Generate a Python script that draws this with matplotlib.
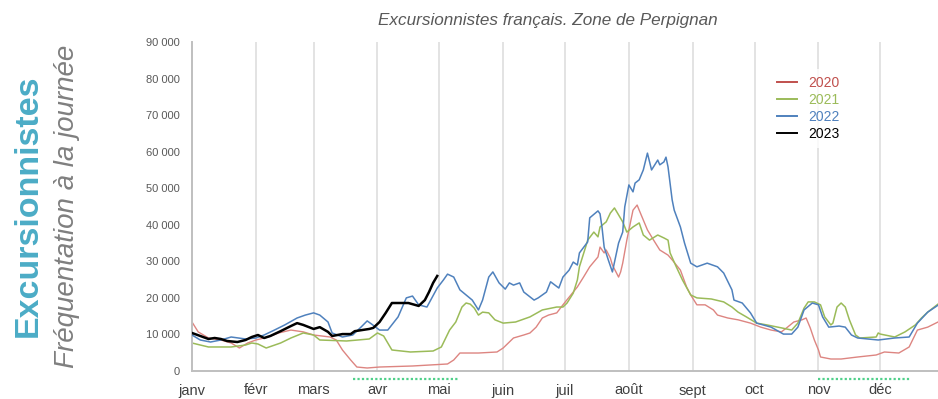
import matplotlib
matplotlib.use("Agg")
import matplotlib.pyplot as plt
from matplotlib.lines import Line2D

plt.rcParams['font.family'] = ['Liberation Sans', 'DejaVu Sans']

# Month labels and first day-of-year for each month
months = ['janv', 'févr', 'mars', 'avr', 'mai', 'juin', 'juil', 'août', 'sept', 'oct', 'nov', 'déc']
month_start = [0, 31, 59, 90, 120, 151, 181, 212, 243, 273, 304, 334]

# 2020
days_2020 = [0, 3, 8, 14, 19, 23, 27, 31, 37, 42, 48, 54, 59, 67, 70, 73, 77, 80, 85, 91,
             107, 124, 127, 130, 133, 139, 148, 151, 156, 161, 164, 167, 170, 173, 177, 180,
             183, 187, 190, 193, 197, 198, 200, 201, 203, 204, 207, 208, 209, 211, 213, 214,
             216, 217, 219, 221, 224, 227, 231, 233, 237, 240, 242, 245, 249, 253, 255, 260,
             265, 271, 276, 281, 286, 289, 292, 296, 298, 300, 302, 304, 305, 310, 315, 323,
             332, 336, 343, 348, 352, 357, 362]
vals_2020 = [13400, 10700, 9030, 8480, 7660, 6290, 7660, 8480, 9300, 10400, 11200, 10700, 9850,
             9300, 8480, 5750, 3010, 1090, 820, 1090, 1370, 1920, 3010, 4920, 4920, 4920, 5200,
             6290, 9030, 9850, 10400, 12000, 14500, 15300, 15900, 18100, 20200, 23000, 25700,
             28500, 31200, 33900, 32300, 33100, 30900, 29000, 25700, 27100, 29500, 35800, 41300,
             44000, 45400, 44000, 41300, 38600, 35800, 33100, 31700, 30400, 27600, 23000, 20800,
             18100, 18100, 16700, 15300, 14500, 14000, 13100, 12000, 11200, 10700, 12000, 13400,
             14000, 14500, 11800, 8480, 5750, 3830, 3280, 3280, 3830, 4380, 5200, 4920, 6570,
             11200, 12000, 13400]

# 2021
days_2021 = [0, 4, 8, 13, 19, 26, 29, 32, 36, 43, 48, 54, 59, 62, 75, 86, 90, 93, 97, 106,
             117, 121, 125, 128, 131, 133, 135, 137, 139, 141, 144, 147, 151, 157, 164, 170,
             177, 180, 182, 185, 187, 188, 191, 192, 195, 197, 198, 201, 203, 205, 207, 209,
             211, 214, 217, 219, 222, 226, 229, 231, 232, 235, 238, 242, 245, 252, 258, 262,
             265, 269, 274, 279, 286, 291, 294, 297, 299, 302, 305, 307, 310, 311, 313, 315,
             317, 319, 322, 324, 332, 333, 334, 341, 346, 351, 354, 357, 362]
vals_2021 = [7660, 7110, 6570, 6570, 6570, 7110, 7660, 7390, 6290, 7660, 9030, 10400, 9850, 8480,
             8210, 8760, 10400, 9580, 5750, 5200, 5470, 6570, 11200, 13400, 17500, 18600, 18300,
             17200, 15300, 16100, 15900, 14000, 13100, 13400, 14800, 16700, 17500, 17500, 18600,
             21300, 24900, 28500, 33900, 35800, 38000, 36700, 39400, 40800, 43200, 44600, 42700,
             40800, 38000, 39400, 40500, 37200, 35800, 37200, 36400, 35800, 32300, 28500, 24900,
             20800, 20000, 19700, 18900, 17500, 16100, 14800, 13100, 12600, 11800, 11200, 13100,
             17200, 18900, 18900, 18100, 14800, 12600, 13100, 17500, 18600, 17500, 14000, 9850,
             9030, 9300, 10400, 10100, 9300, 10700, 12600, 14500, 16100, 18300]

# 2022
days_2022 = [0, 4, 9, 14, 19, 26, 31, 35, 40, 45, 51, 55, 59, 62, 66, 68, 73, 78, 82, 85,
             87, 91, 95, 100, 104, 107, 110, 114, 119, 122, 124, 127, 130, 133, 136, 139,
             141, 144, 146, 149, 152, 154, 156, 159, 161, 166, 168, 172, 174, 178, 180, 183,
             185, 187, 188, 192, 193, 197, 198, 199, 200, 202, 204, 207, 209, 210, 212, 214,
             215, 217, 219, 221, 223, 226, 227, 229, 230, 231, 233, 234, 237, 239, 242, 245,
             250, 255, 258, 262, 263, 267, 271, 274, 281, 287, 291, 294, 297, 301, 304, 306,
             309, 314, 317, 320, 323, 333, 341, 348, 352, 357, 362]
vals_2022 = [9850, 8480, 7930, 8480, 9300, 8760, 9030, 9850, 11200, 12600, 14500, 15300, 15900,
             15300, 13400, 10400, 9300, 9850, 12000, 13700, 12900, 11200, 11200, 14800, 20000,
             20500, 18100, 17500, 22700, 24900, 26500, 25700, 22200, 20800, 19400, 16700, 19400,
             25700, 27100, 24100, 22400, 24100, 23500, 24100, 21600, 19400, 20000, 21600, 24400,
             22700, 25700, 27600, 29800, 29000, 32300, 35300, 41900, 43800, 43000, 39100, 33900,
             30400, 27100, 35000, 38000, 44900, 50900, 49000, 51400, 52300, 55000, 59600, 55000,
             57700, 56400, 57200, 58500, 55800, 46800, 44000, 39400, 35000, 29500, 28500, 29500,
             28500, 26800, 22200, 19400, 18600, 15900, 13100, 12000, 10100, 10100, 12000, 16700,
             18600, 18100, 14800, 12000, 12300, 12000, 9850, 9030, 8480, 9030, 9300, 13100,
             16100, 18000]

# 2023 (partial year)
days_2023 = [0, 4, 8, 11, 14, 17, 22, 26, 29, 32, 35, 38, 43, 48, 51, 54, 59, 62, 66, 68,
             73, 77, 79, 86, 88, 91, 94, 97, 102, 105, 110, 113, 115, 117, 119]
vals_2023 = [10400, 9580, 8760, 9030, 8760, 8210, 7930, 8480, 9300, 9850, 9030, 9580, 10900,
             12300, 13100, 12600, 11500, 12000, 10700, 9580, 10100, 10100, 10900, 11500, 11800,
             13400, 15900, 18600, 18600, 18600, 17800, 19400, 21600, 24100, 26000]

# Lockdown periods marked under the axis (start day, end day)
lockdowns = [(78, 129), (304, 349)]

yticks = [0, 10000, 20000, 30000, 40000, 50000, 60000, 70000, 80000, 90000]

fig = plt.figure(figsize=(9.38, 3.99), dpi=100)
ax = fig.add_axes([192 / 938, 1 - 371 / 399, 1 - 192 / 938, (371 - 42) / 399])

for d in month_start[1:]:
    ax.axvline(d, color='#e0e0e0', lw=1.3, zorder=0)

ax.plot(days_2020, vals_2020, color='#dd8581', lw=1.0, zorder=2)
ax.plot(days_2021, vals_2021, color='#9bbb59', lw=1.1, zorder=2)
ax.plot(days_2022, vals_2022, color='#4f81bd', lw=1.1, zorder=3)
ax.plot(days_2023, vals_2023, color='#000000', lw=1.8, zorder=4)

for s, e in lockdowns:
    ax.plot([s, e], [-2200, -2200], color='#4fd08a', lw=1.6, ls=(0, (1, 1)),
            clip_on=False, zorder=5)

ax.set_xlim(0, 362)
ax.set_ylim(0, 90000)
ax.set_xticks(month_start)
ax.set_xticklabels(months, fontsize=10.5, color='#404040')
ax.set_yticks(yticks)
ax.set_yticklabels([f"{v:,}".replace(',', ' ') for v in yticks], fontsize=8, color='#595959')
ax.tick_params(axis='both', length=0)
ax.tick_params(axis='x', pad=9)
ax.tick_params(axis='y', pad=9)

for side in ['top', 'right']:
    ax.spines[side].set_visible(False)
for side in ['left', 'bottom']:
    ax.spines[side].set_color('#bfbfbf')
    ax.spines[side].set_linewidth(1.4)

handles = [Line2D([], [], color=c, lw=1.4) for c in ['#c0504d', '#9bbb59', '#4f81bd', '#000000']]
leg = ax.legend(handles, ['2020', '2021', '2022', '2023'], loc='upper left',
                bbox_to_anchor=(763 / 938, 1 - 62 / 399), bbox_transform=fig.transFigure,
                frameon=True, facecolor='white', edgecolor='none', fancybox=False,
                fontsize=10, handlelength=1.45, handletextpad=0.8, labelspacing=0.22,
                borderpad=0.5)
for txt, c in zip(leg.get_texts(), ['#c0504d', '#9bbb59', '#4f81bd', '#000000']):
    txt.set_color(c)

fig.text(548 / 938, 1 - 20 / 399, 'Excursionnistes français. Zone de Perpignan',
         ha='center', va='center', fontsize=12.3, style='italic', color='#595959')
fig.text(28 / 938, 1 - 206 / 399, 'Excursionnistes', rotation=90, ha='center', va='center',
         fontsize=24.5, fontweight='bold', color='#4bacc6')
fig.text(67 / 938, 1 - 206 / 399, 'Fréquentation à la journée', rotation=90, ha='center',
         va='center', fontsize=20, style='italic', color='#7f7f7f')

fig.savefig('out.png', dpi=100)
